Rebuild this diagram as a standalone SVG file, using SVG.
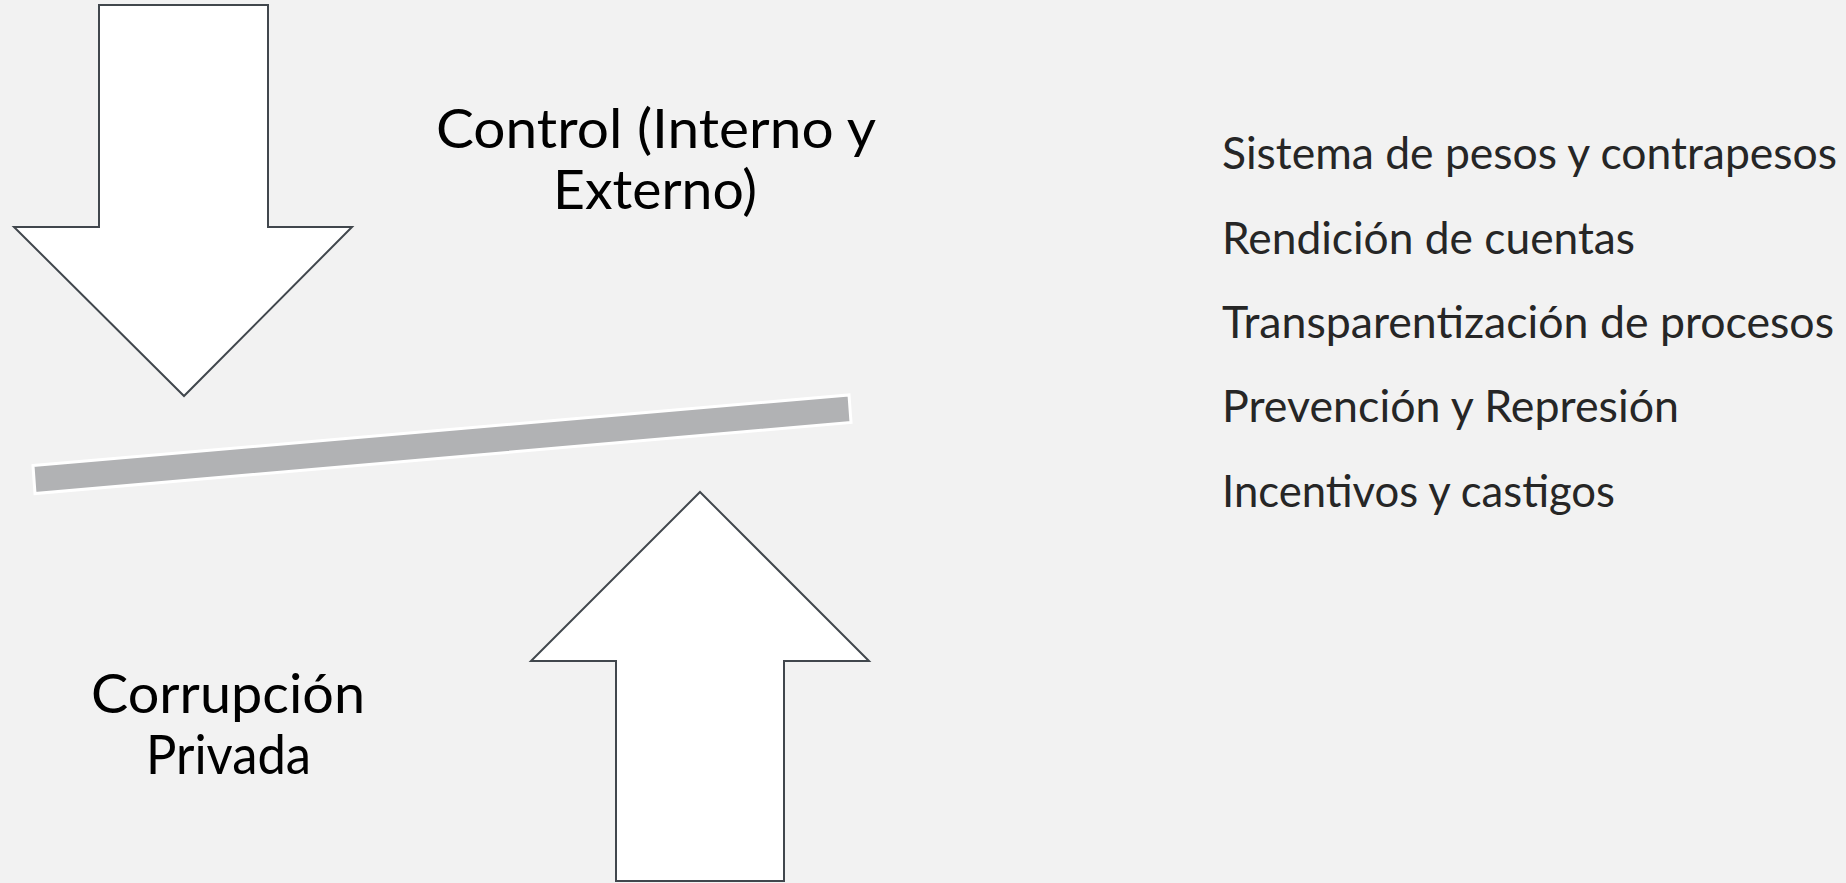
<svg xmlns="http://www.w3.org/2000/svg" width="1846" height="883" viewBox="0 0 1846 883">
  <style>
    .arrow { fill: #ffffff; stroke: #41474d; stroke-width: 2; stroke-linejoin: miter; }
    .bar { fill: #b1b2b4; stroke: #ffffff; stroke-width: 3; stroke-linejoin: miter; }
    .title { font-family: Lato, "Open Sans", "Liberation Sans", sans-serif; font-size: 53.5px; fill: #000000; text-anchor: middle; }
    .item { font-family: Lato, "Open Sans", "Liberation Sans", sans-serif; font-size: 45px; fill: #262626; }
  </style>
  <rect x="0" y="0" width="1846" height="883" fill="#f2f2f2"/>

  <g id="arrow-control">
    <polygon class="arrow" points="99,5 268,5 268,227 352,227 184,396 14,227 99,227"/>
  </g>

  <g id="arrow-corrupcion">
    <polygon class="arrow" points="700,492 869,661 784,661 784,881 616,881 616,661 531,661"/>
  </g>

  <g id="balance-bar">
    <polygon class="bar" points="33,465.5 849,395 851,422.5 35,493.5"/>
  </g>

  <g id="label-control">
    <text class="title" x="656" y="148.3" textLength="440" lengthAdjust="spacingAndGlyphs">Control (Interno y</text>
    <text class="title" x="655" y="209.3" textLength="204" lengthAdjust="spacingAndGlyphs">Externo)</text>
  </g>

  <g id="label-corrupcion">
    <text class="title" x="228" y="713.3" textLength="274" lengthAdjust="spacingAndGlyphs">Corrupción</text>
    <text class="title" x="228.5" y="774" textLength="165" lengthAdjust="spacingAndGlyphs">Privada</text>
  </g>

  <g id="list">
    <text class="item" x="1222" y="169.3" textLength="615" lengthAdjust="spacingAndGlyphs">Sistema de pesos y contrapesos</text>
    <text class="item" x="1222" y="253.6" textLength="413" lengthAdjust="spacingAndGlyphs">Rendición de cuentas</text>
    <text class="item" x="1222" y="338" textLength="612" lengthAdjust="spacingAndGlyphs">Transparentización de procesos</text>
    <text class="item" x="1222" y="422.3" textLength="457" lengthAdjust="spacingAndGlyphs">Prevención y Represión</text>
    <text class="item" x="1222" y="506.7" textLength="393" lengthAdjust="spacingAndGlyphs">Incentivos y castigos</text>
  </g>

  <g id="connectors"></g>
</svg>
